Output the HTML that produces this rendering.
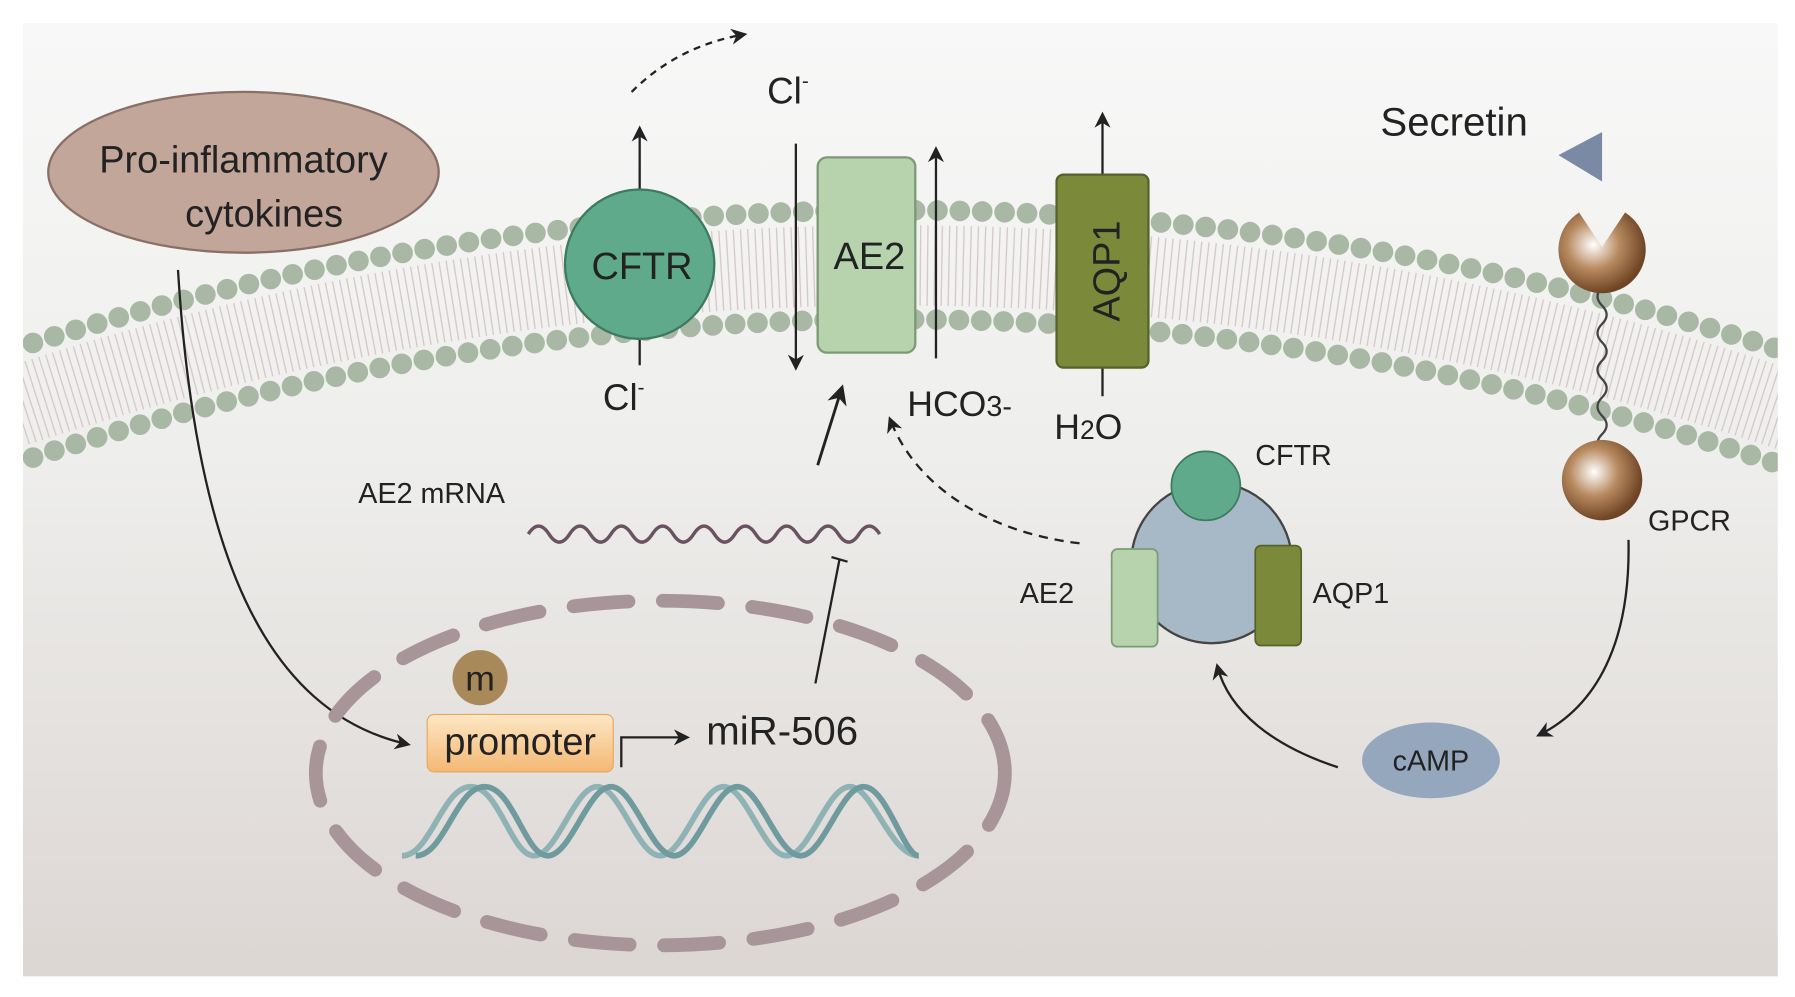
<!DOCTYPE html>
<html><head><meta charset="utf-8"><style>html,body{margin:0;padding:0;background:#fff;overflow:hidden;width:1795px;height:997px}svg{display:block}text{font-family:"Liberation Sans",Arial,sans-serif;fill:#222}</style></head><body>
<svg width="1795" height="997" viewBox="0 0 1563 868" preserveAspectRatio="none" xmlns="http://www.w3.org/2000/svg">
<defs>
<linearGradient id="bg" x1="0" y1="0" x2="0" y2="1"><stop offset="0" stop-color="#f8f8f8"/><stop offset="0.45" stop-color="#eeeeec"/><stop offset="1" stop-color="#dcd6d3"/></linearGradient>
<linearGradient id="pr" x1="0" y1="0" x2="0" y2="1"><stop offset="0" stop-color="#fde7c4"/><stop offset="1" stop-color="#f4b874"/></linearGradient>
<radialGradient id="ball" cx="0.4" cy="0.4" r="0.6"><stop offset="0" stop-color="#fff"/><stop offset="0.5" stop-color="#b88a60"/><stop offset="1" stop-color="#6e4424"/></radialGradient>
<marker id="ar" viewBox="0 0 10 10" refX="8" refY="5" markerWidth="7" markerHeight="7" orient="auto"><path d="M0,0 L10,5 L0,10 L3,5z" fill="#222"/></marker>
<clipPath id="cl"><rect x="20" y="20" width="1528" height="830"/></clipPath>
</defs>
<rect x="20" y="20" width="1528" height="830" fill="url(#bg)"/>
<g clip-path="url(#cl)">
<circle cx="780" cy="2683" r="2452" fill="none" stroke="#d8c8cc" stroke-width="70" stroke-dasharray="1.2 5"/>
<circle cx="780" cy="2683" r="2500" fill="none" stroke="#a9b8a5" stroke-width="18" stroke-dasharray="0 19.5" stroke-linecap="round"/>
<circle cx="780" cy="2683" r="2405" fill="none" stroke="#a9b8a5" stroke-width="18" stroke-dasharray="0 19.5" stroke-linecap="round"/>
</g>
<ellipse cx="212" cy="150" rx="170" ry="70" fill="#c2a69a" stroke="#8a6f66" stroke-width="2"/>
<text x="212" y="150" font-size="33" text-anchor="middle">Pro-inflammatory</text>
<text x="230" y="197" font-size="33" text-anchor="middle">cytokines</text>
<path d="M155,235 C170,480 230,620 355,648" fill="none" stroke="#222" stroke-width="2" marker-end="url(#ar)"/>
<line x1="557" y1="170" x2="557" y2="112" stroke="#222" stroke-width="2" marker-end="url(#ar)"/>
<line x1="557" y1="290" x2="557" y2="318" stroke="#222" stroke-width="2"/>
<circle cx="557" cy="230" r="65" fill="#5faa8a" stroke="#3d7a60" stroke-width="2"/>
<text x="559" y="243" font-size="33" text-anchor="middle">CFTR</text>
<text x="525" y="357" font-size="32">Cl<tspan font-size="18" dy="-14">-</tspan></text>
<path d="M550,80 Q590,40 648,30" fill="none" stroke="#222" stroke-width="2" stroke-dasharray="6 5" marker-end="url(#ar)"/>
<text x="668" y="90" font-size="32">Cl<tspan font-size="18" dy="-14">-</tspan></text>
<line x1="693" y1="125" x2="693" y2="320" stroke="#222" stroke-width="2" marker-end="url(#ar)"/>
<rect x="712" y="137" width="85" height="170" rx="8" fill="#b7d3ae" stroke="#7c9a75" stroke-width="2"/>
<text x="757" y="234" font-size="33" text-anchor="middle">AE2</text>
<line x1="815" y1="312" x2="815" y2="130" stroke="#222" stroke-width="2" marker-end="url(#ar)"/>
<text x="790" y="362" font-size="31">HCO<tspan font-size="25">3-</tspan></text>
<line x1="960" y1="345" x2="960" y2="100" stroke="#222" stroke-width="2" marker-end="url(#ar)"/>
<rect x="920" y="152" width="80" height="168" rx="6" fill="#7a8a3a" stroke="#55632a" stroke-width="2"/>
<text transform="translate(975,236) rotate(-90)" font-size="33" text-anchor="middle">AQP1</text>
<text x="918" y="382" font-size="31">H<tspan font-size="23">2</tspan>O</text>
<text x="1202" y="118" font-size="35">Secretin</text>
<path d="M1357,135 L1395,115 L1395,158z" fill="#7a8aa5"/>
<path d="M1395,250 q-8,8 0,16 q8,8 0,16 q-8,8 0,16 q8,8 0,16 q-8,8 0,16 q8,8 0,16 q-8,8 0,16 q8,8 0,16 q-8,8 0,16 q8,8 0,16" fill="none" stroke="#444" stroke-width="2"/>
<path d="M1395,215 L1375,185 A38,38 0 1 0 1415,185 Z" fill="url(#ball)"/>
<circle cx="1395" cy="418" r="35" fill="url(#ball)"/>
<text x="1435" y="462" font-size="25">GPCR</text>
<path d="M1418,470 C1420,560 1390,615 1340,640" fill="none" stroke="#222" stroke-width="2" marker-end="url(#ar)"/>
<ellipse cx="1246" cy="662" rx="60" ry="33" fill="#94a7bd"/>
<text x="1246" y="671" font-size="25" text-anchor="middle">cAMP</text>
<path d="M1165,668 C1110,650 1070,620 1060,580" fill="none" stroke="#222" stroke-width="2" marker-end="url(#ar)"/>
<circle cx="1055" cy="490" r="70" fill="#a7b8c6" stroke="#444" stroke-width="2"/>
<circle cx="1050" cy="423" r="30" fill="#5faa8a" stroke="#3d7a60" stroke-width="1.5"/>
<rect x="968" y="478" width="40" height="85" rx="5" fill="#b7d3ae" stroke="#7c9a75" stroke-width="1.5"/>
<rect x="1093" y="475" width="40" height="87" rx="5" fill="#7a8a3a" stroke="#55632a" stroke-width="1.5"/>
<text x="1093" y="405" font-size="25">CFTR</text>
<text x="888" y="525" font-size="25">AE2</text>
<text x="1143" y="525" font-size="25">AQP1</text>
<path d="M940,473 C870,465 800,430 775,365" fill="none" stroke="#222" stroke-width="2" stroke-dasharray="8 6" marker-end="url(#ar)"/>
<line x1="712" y1="405" x2="733" y2="338" stroke="#222" stroke-width="2.5" marker-end="url(#ar)"/>
<text x="312" y="438" font-size="25">AE2 mRNA</text>
<path d="M460,465 q9,-14 18,0 t18,0 t18,0 t18,0 t18,0 t18,0 t18,0 t18,0 t18,0 t18,0 t18,0 t18,0 t18,0 t18,0 t18,0 t18,0 t18,0" fill="none" stroke="#6a5360" stroke-width="3"/>
<line x1="710" y1="595" x2="731" y2="487" stroke="#222" stroke-width="2"/>
<line x1="724" y1="485" x2="738" y2="489" stroke="#222" stroke-width="2"/>
<ellipse cx="575" cy="673" rx="300" ry="150" fill="none" stroke="#a8959a" stroke-width="12" stroke-dasharray="48 30" stroke-linecap="round"/>
<circle cx="418" cy="590" r="24" fill="#a88a5a"/>
<text x="418" y="601" font-size="31" text-anchor="middle">m</text>
<rect x="372" y="622" width="162" height="50" rx="6" fill="url(#pr)" stroke="#e8a860" stroke-width="1"/>
<text x="453" y="657" font-size="33" text-anchor="middle">promoter</text>
<path d="M541,668 L541,642 L598,642" fill="none" stroke="#222" stroke-width="2" marker-end="url(#ar)"/>
<text x="615" y="648" font-size="35">miR-506</text>
<g fill="none" stroke-width="5">
<path d="M350,745 C375,745 385,685 410,685 S445,745 465,745 S500,685 520,685 S555,745 575,745 S610,685 630,685 S665,745 685,745 S720,685 740,685 S775,745 800,745" stroke="#8fb3b5"/>
<path d="M362,745 C387,745 397,685 422,685 S457,745 477,745 S512,685 532,685 S567,745 587,745 S622,685 642,685 S677,745 697,745 S732,685 752,685 S787,745 800,745" stroke="#6f9a9e"/>
</g>
</svg>
</body></html>
